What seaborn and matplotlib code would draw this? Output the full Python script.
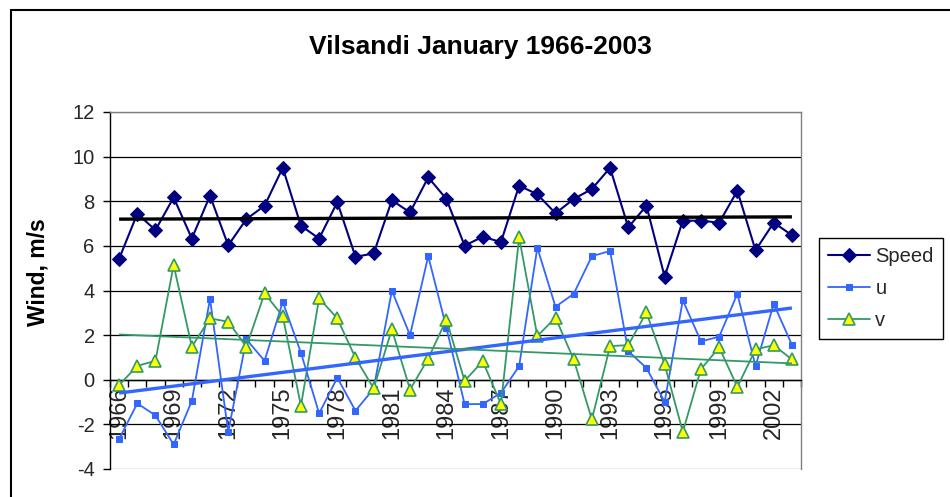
import numpy as np
import pandas as pd
import matplotlib
matplotlib.use("Agg")
import matplotlib.pyplot as plt
import seaborn as sns
from matplotlib.patches import Rectangle

years = list(range(1966, 2004))
speed = [5.42, 7.44, 6.71, 8.17, 6.33, 8.25, 6.02, 7.20, 7.80, 9.50, 6.90, 6.33, 7.96,
         5.51, 5.66, 8.04, 7.50, 9.07, 8.10, 6.01, 6.41, 6.17, 8.70, 8.31, 7.46,
         8.10, 8.55, 9.50, 6.83, 7.80, 4.62, 7.13, 7.13, 7.04, 8.47, 5.80, 7.04, 6.48]
u = [-2.66, -1.06, -1.60, -2.90, -0.95, 3.63, -2.34, 1.81, 0.85, 3.49, 1.21, -1.51, 0.09,
     -1.39, -0.40, 3.99, 2.00, 5.54, 2.33, -1.09, -1.09, -0.59, 0.61, 5.92, 3.27,
     3.85, 5.54, 5.77, 1.28, 0.53, -0.99, 3.56, 1.72, 1.93, 3.85, 0.61, 3.40, 1.57]
v = [-0.24, 0.62, 0.85, 5.14, 1.48, 2.75, 2.60, 1.48, 3.87, 2.85, -1.17, 3.65, 2.75,
     0.98, -0.39, 2.26, -0.44, 0.95, 2.70, -0.05, 0.83, -1.09, 6.38, 1.96, 2.78,
     0.91, -1.78, 1.51, 1.55, 3.02, 0.69, -2.34, 0.48, 1.45, -0.32, 1.36, 1.55, 0.91]
series_names = ["Speed", "u", "v"]
title = "Vilsandi January 1966-2003"
ylabel = "Wind, m/s"
yticks = [-4, -2, 0, 2, 4, 6, 8, 10, 12]
xtick_labels = years[::3]

sns.set_theme(style="white")
plt.rcParams["font.family"] = ["Liberation Sans", "DejaVu Sans"]

df = pd.DataFrame({"year": years, "Speed": speed, "u": u, "v": v})

fig = plt.figure(figsize=(9.5, 4.97), dpi=100)
fig.patch.set_facecolor("white")
ax = fig.add_axes([110 / 950, 1 - 469 / 497, 691 / 950, 357 / 497])

c_speed = "#000080"
c_u = "#3366FF"
c_v = "#339966"

sns.lineplot(data=df, x="year", y="Speed", ax=ax, color=c_speed, lw=1.5,
             marker="D", markersize=7, markeredgecolor=c_speed, label="Speed", zorder=3)
sns.lineplot(data=df, x="year", y="u", ax=ax, color=c_u, lw=1.3,
             marker="s", markersize=4.5, markeredgecolor=c_u, label="u", zorder=3)
sns.lineplot(data=df, x="year", y="v", ax=ax, color=c_v, lw=1.3,
             marker="^", markersize=8, markerfacecolor="#FFFF00",
             markeredgecolor=c_v, markeredgewidth=1.2, label="v", zorder=3)

# linear trend lines computed from the data
xs = np.array(years, dtype=float)
for vals, col, lw in [(speed, "black", 2.4), (u, c_u, 2.4), (v, c_v, 1.3)]:
    k, b = np.polyfit(xs, np.array(vals), 1)
    ax.plot(xs, k * xs + b, color=col, lw=lw, zorder=4, solid_capstyle="butt")

# spine positions first (set_position resets ticks)
ax.spines["bottom"].set_position(("data", 0))
ax.spines["bottom"].set_color("black")
ax.spines["bottom"].set_linewidth(1)
ax.spines["left"].set_color("black")
ax.spines["left"].set_linewidth(1)
for s in ["top", "right"]:
    ax.spines[s].set_color("#808080")
    ax.spines[s].set_linewidth(1)

ax.set_xlim(years[0] - 0.5, years[-1] + 0.5)
ax.set_ylim(yticks[0], yticks[-1])
ax.set_yticks(yticks)
ax.set_yticklabels([str(t) for t in yticks], fontsize=14.5)
ax.set_xticks(xtick_labels)
ax.set_xticklabels([str(t) for t in xtick_labels], rotation=90, fontsize=17)
ax.set_xticks(np.arange(years[0] - 0.5, years[-1] + 1, 1.0), minor=True)
ax.tick_params(axis="x", which="major", length=0, pad=5)
ax.tick_params(axis="x", which="minor", length=5, width=1, color="black", direction="out", bottom=True)
ax.tick_params(axis="y", which="major", length=5, width=1, color="black", direction="out", left=True, pad=6)
ax.set_xlabel("")
ax.set_ylabel("")

ax.grid(axis="y", color="black", lw=0.9)
ax.grid(axis="x", visible=False)
gl = ax.yaxis.get_gridlines()
gl[0].set_color("#808080")
gl[-1].set_color("#808080")
ax.set_axisbelow(True)

ax.get_legend().remove()
handles, labels = ax.get_legend_handles_labels()
leg = fig.legend(handles[:3], series_names, loc="upper left",
                 bbox_to_anchor=(819 / 950, 1 - 238 / 497), fontsize=14.5,
                 frameon=True, fancybox=False, edgecolor="black", framealpha=1,
                 handlelength=2.1, handletextpad=0.25, labelspacing=0.65,
                 borderpad=0.45, borderaxespad=0)
leg.get_frame().set_linewidth(1)

fig.text(480 / 950, 1 - 47 / 497, title, ha="center", va="center",
         fontsize=19, fontweight="bold", color="black")
fig.text(38 / 950, 1 - 272 / 497, ylabel, rotation=90, ha="center", va="center",
         fontsize=16.5, fontweight="bold", color="black")

fig.add_artist(Rectangle((11 / 950, -0.1), 1.2, 1.1 - 10 / 497, transform=fig.transFigure,
                         fill=False, edgecolor="black", lw=1.5))

fig.savefig("out.png", dpi=100, facecolor="white")
